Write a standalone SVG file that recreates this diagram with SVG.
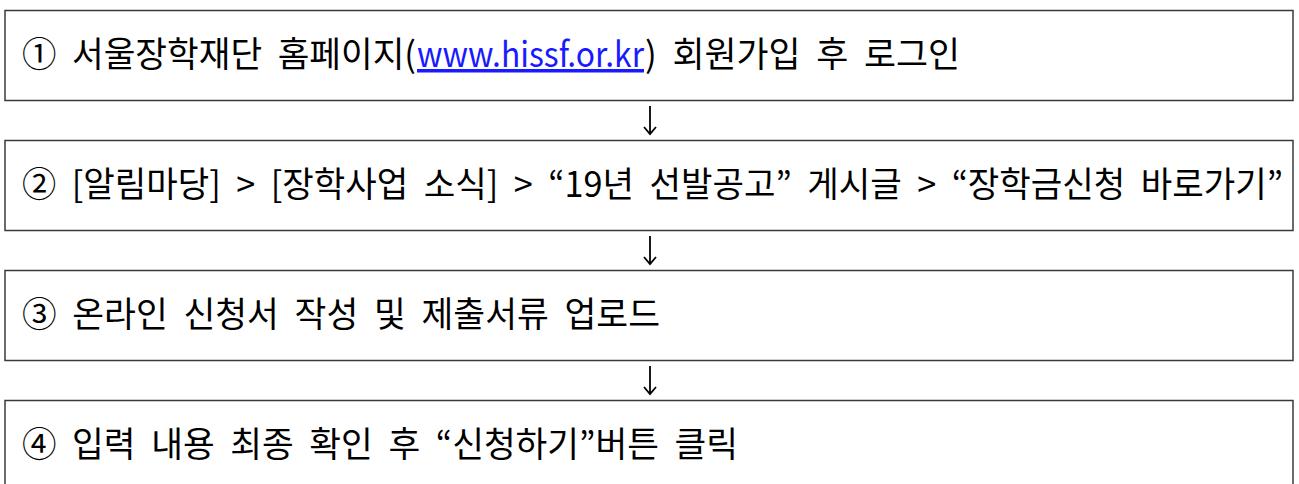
<svg xmlns="http://www.w3.org/2000/svg" width="1299" height="484" viewBox="0 0 1299 484">
<style>
.box{fill:#fff;stroke:#3a3a3a;stroke-width:1.5}
.t{font-family:"Noto Sans CJK KR","Noto Sans",sans-serif;font-size:35px;font-weight:400;fill:#000;word-spacing:8px}
.link{fill:#1a1aff;text-decoration:underline;word-spacing:0}
.arr{fill:none;stroke:#000;stroke-width:1.8}
</style>
<rect width="1299" height="484" fill="#fff"/>
<g id="step1">
<rect class="box" x="5" y="10.5" width="1288" height="90"/>
<text class="t" x="22" y="67" textLength="394" lengthAdjust="spacingAndGlyphs">① 서울장학재단 홈페이지(</text>
<text class="t link" x="417" y="67" textLength="227" lengthAdjust="spacingAndGlyphs">www.hissf.or.kr</text>
<text class="t" x="645" y="67" textLength="315" lengthAdjust="spacingAndGlyphs">) 회원가입 후 로그인</text>
</g>
<g id="step2">
<rect class="box" x="5" y="140.5" width="1288" height="90"/>
<text class="t" x="22" y="197" textLength="1261" lengthAdjust="spacingAndGlyphs">② [알림마당] &gt; [장학사업 소식] &gt; “19년 선발공고” 게시글 &gt; “장학금신청 바로가기”</text>
</g>
<g id="step3">
<rect class="box" x="5" y="270.5" width="1288" height="90"/>
<text class="t" x="22" y="327" textLength="638" lengthAdjust="spacingAndGlyphs">③ 온라인 신청서 작성 및 제출서류 업로드</text>
</g>
<g id="step4">
<rect class="box" x="5" y="400.5" width="1288" height="90"/>
<text class="t" x="22" y="457" textLength="716" lengthAdjust="spacingAndGlyphs">④ 입력 내용 최종 확인 후 “신청하기”버튼 클릭</text>
</g>
<g id="connectors">
<path class="arr" d="M650 106V134M644 127L650 134L656 127"/>
<path class="arr" d="M650 236V264M644 257L650 264L656 257"/>
<path class="arr" d="M650 366V394M644 387L650 394L656 387"/>
</g>
</svg>
